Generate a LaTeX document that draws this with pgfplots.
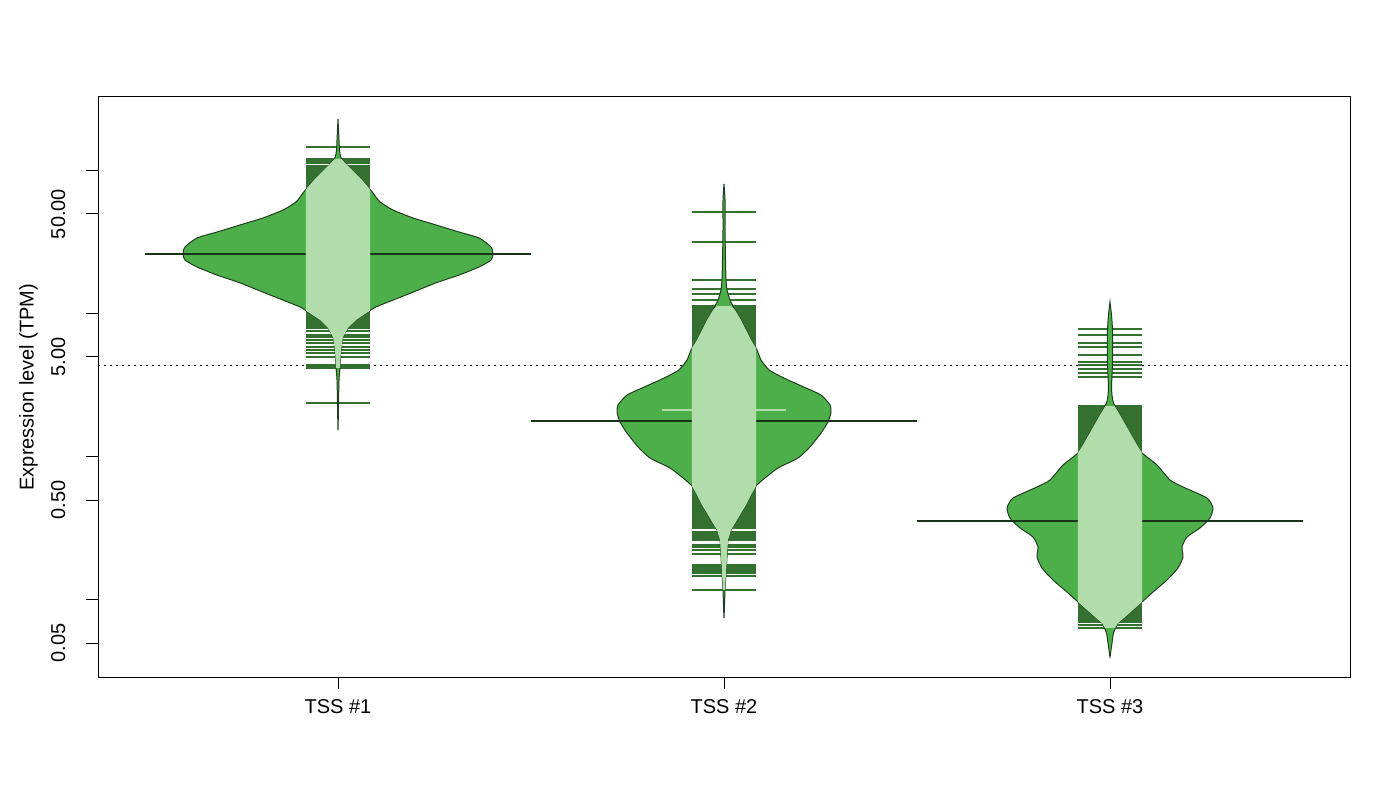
\documentclass[border=0pt]{standalone}
\usepackage{fontspec}
\setmainfont{Liberation Sans}
\usepackage{pgfplots}
\usepackage{pgfplotstable}
\pgfplotsset{compat=1.18}
\definecolor{beanfill}{RGB}{77,175,74}
\definecolor{beanlight}{RGB}{177,221,170}
\definecolor{beandark}{RGB}{52,112,48}
\definecolor{beanborder}{RGB}{30,62,30}
\definecolor{beanmean}{RGB}{25,52,25}

% individual observations (bean lines), x = bean position, y = TPM
\pgfplotstableread{
x y
1 147
1 121.2
1 117.4
1 113.6
1 108.3
1 104.9
1 101.5
1 98.3
1 95.2
1 92.2
1 89.3
1 86.5
1 83.7
1 81.1
1 78.5
1 76.0
1 73.6
1 71.3
1 60
1 48
1 38
1 30
1 24
1 19
1 15
1 12.5
1 11.2
1 10.66
1 10.32
1 9.99
1 9.68
1 9.37
1 9.07
1 8.78
1 8.51
1 8.24
1 7.98
1 7.60
1 7.13
1 6.90
1 6.58
1 6.27
1 5.87
1 5.60
1 5.33
1 5.00
1 4.40
1 4.33
1 4.26
1 4.19
1 2.38
}\beanA

\pgfplotstableread{
x y
2 51.6
2 31.85
2 17.28
2 14.94
2 13.79
2 12.52
2 11.36
2 11.00
2 10.66
2 10.32
2 9.99
2 9.68
2 9.37
2 9.07
2 8.78
2 8.51
2 8.24
2 7.98
2 7.72
2 7.48
2 7.24
2 7.01
2 6.79
2 6.58
2 6.37
2 6.17
2 5.97
2 5.78
2 5.0
2 4.0
2 3.0
2 2.5
2 2.0
2 1.8
2 1.5
2 1.2
2 1.0
2 0.8
2 0.7
2 0.626
2 0.607
2 0.587
2 0.569
2 0.551
2 0.533
2 0.516
2 0.500
2 0.484
2 0.469
2 0.454
2 0.440
2 0.426
2 0.412
2 0.399
2 0.386
2 0.374
2 0.362
2 0.351
2 0.340
2 0.329
2 0.319
2 0.299
2 0.289
2 0.280
2 0.271
2 0.263
2 0.242
2 0.235
2 0.224
2 0.210
2 0.1756
2 0.170
2 0.1646
2 0.1594
2 0.1543
2 0.1471
2 0.1174
}\beanB

\pgfplotstableread{
x y
3 7.85
3 7.13
3 6.27
3 5.87
3 5.16
3 4.61
3 4.40
3 4.12
3 3.87
3 3.62
3 2.27
3 2.20
3 2.13
3 2.06
3 2.00
3 1.934
3 1.873
3 1.813
3 1.756
3 1.700
3 1.646
3 1.594
3 1.54
3 1.494
3 1.447
3 1.401
3 1.357
3 1.314
3 1.272
3 1.232
3 1.193
3 1.155
3 1.118
3 1.0
3 0.8
3 0.6
3 0.45
3 0.36
3 0.3
3 0.25
3 0.2
3 0.16
3 0.13
3 0.11
3 0.0968
3 0.0937
3 0.0907
3 0.0878
3 0.0851
3 0.0824
3 0.0798
3 0.0772
3 0.0748
3 0.0724
3 0.0701
3 0.0668
3 0.0637
}\beanC

\begin{document}
\begin{tikzpicture}[font=\fontsize{10}{12}\selectfont]
\useasboundingbox (0,0) rectangle (700pt,400pt);
\begin{axis}[
  at={(49pt,61.5pt)}, anchor=south west,
  scale only axis, width=626pt, height=290pt,
  clip mode=individual,
  xmin=0.3782, xmax=3.6218,
  ymode=log, ymin=0.02892, ymax=328.9,
  xtick={1,2,3}, xticklabels={TSS \#1,TSS \#2,TSS \#3},
  ytick={0.05,0.1,0.5,1,5,10,50,100},
  yticklabels={0.05,,0.50,,5.00,,50.00,},
  yminorticks=false, xminorticks=false,
  tick align=outside, xtick pos=left, ytick pos=left,
  major tick length=6pt,
  tick style={black, line width=0.5pt},
  axis line style={black, line width=0.5pt},
  tick label style={font=\fontsize{10}{12}\selectfont},
  xticklabel style={anchor=north, inner sep=0pt},
  xticklabel shift=5pt,
  yticklabel style={rotate=90, anchor=south, inner sep=0pt},
  yticklabel shift=10.2pt,
  ylabel={Expression level (TPM)},
  every axis y label/.style={at={(axis description cs:-0.0515,0.5)}, rotate=90, anchor=base, inner sep=0pt, font=\fontsize{10}{12}\selectfont},
]
% overall average
\addplot[black, line width=0.5pt, dash pattern=on 1pt off 2pt] coordinates {(0.3782,4.35) (3.6218,4.35)};

% bean lines (dark, full length)
\addplot[only marks, mark=-, mark size=16pt, mark options={draw=beandark, line width=0.75pt}] table[x=x,y=y]{\beanA};
\addplot[only marks, mark=-, mark size=16pt, mark options={draw=beandark, line width=0.75pt}] table[x=x,y=y]{\beanB};
\addplot[only marks, mark=-, mark size=16pt, mark options={draw=beandark, line width=0.75pt}] table[x=x,y=y]{\beanC};

% bean 1 density
\addplot[fill=beanfill, draw=beanborder, line width=0.5pt, smooth, tension=0.35] coordinates {
(1.0000,230.8) (1.0026,164.6) (1.0039,140.1) (1.0078,123.2) (1.0233,110.1) (1.0415,98.3)
(1.0622,86.5) (1.0803,76.0) (1.0907,70.1) (1.1088,60.7) (1.1425,53.3) (1.1943,46.9)
(1.2539,41.9) (1.3135,37.4) (1.3653,34.0) (1.3964,29.4) (1.4016,26.3) (1.3964,23.8)
(1.3653,21.3) (1.3135,18.7) (1.2539,16.5) (1.1943,14.2) (1.1425,12.5) (1.0984,11.2)
(1.0777,10.32) (1.0466,9.07) (1.0259,7.98) (1.0130,6.90) (1.0078,5.60) (1.0052,4.26)
(1.0026,3.45) (1.0013,2.31) (1.0000,1.54)
(0.9987,2.31) (0.9974,3.45) (0.9948,4.26) (0.9922,5.60) (0.9870,6.90) (0.9741,7.98)
(0.9534,9.07) (0.9223,10.32) (0.9016,11.2) (0.8575,12.5) (0.8057,14.2) (0.7461,16.5)
(0.6865,18.7) (0.6347,21.3) (0.6036,23.8) (0.5984,26.3) (0.6036,29.4) (0.6347,34.0)
(0.6865,37.4) (0.7461,41.9) (0.8057,46.9) (0.8575,53.3) (0.8912,60.7) (0.9093,70.1)
(0.9197,76.0) (0.9378,86.5) (0.9585,98.3) (0.9767,110.1) (0.9922,123.2) (0.9961,140.1)
(0.9974,164.6) (1.0000,230.8)
} -- cycle;

% bean 2 density
\addplot[fill=beanfill, draw=beanborder, line width=0.5pt, smooth, tension=0.35] coordinates {
(2.0000,81.1) (2.0026,62.65) (2.0026,38.65) (2.0039,23.8) (2.0052,17.28) (2.0078,14.71)
(2.0155,12.52) (2.0285,10.66) (2.0440,9.07) (2.0570,7.72) (2.0700,6.58) (2.0829,5.78)
(2.0907,5.16) (2.0959,4.76) (2.1166,4.06) (2.1554,3.56) (2.2073,3.08) (2.2513,2.71)
(2.2746,2.31) (2.2772,2.06) (2.2694,1.756) (2.2513,1.471) (2.2228,1.174) (2.1917,0.983)
(2.1399,0.837) (2.1062,0.713) (2.0829,0.626) (2.0700,0.542) (2.0570,0.461) (2.0415,0.393)
(2.0181,0.308) (2.0104,0.263) (2.0078,0.200) (2.0052,0.1543) (2.0026,0.1174) (2.0013,0.0922)
(2.0000,0.0748)
(1.9987,0.0922) (1.9974,0.1174) (1.9948,0.1543) (1.9922,0.200) (1.9896,0.263) (1.9819,0.308)
(1.9585,0.393) (1.9430,0.461) (1.9300,0.542) (1.9171,0.626) (1.8938,0.713) (1.8601,0.837)
(1.8083,0.983) (1.7772,1.174) (1.7487,1.471) (1.7306,1.756) (1.7228,2.06) (1.7254,2.31)
(1.7487,2.71) (1.7927,3.08) (1.8446,3.56) (1.8834,4.06) (1.9041,4.76) (1.9093,5.16)
(1.9171,5.78) (1.9300,6.58) (1.9430,7.72) (1.9560,9.07) (1.9715,10.66) (1.9845,12.52)
(1.9922,14.71) (1.9948,17.28) (1.9961,23.8) (1.9974,38.65) (1.9974,62.65) (2.0000,81.1)
} -- cycle;

% bean 3 density
\addplot[fill=beanfill, draw=beanborder, line width=0.5pt, smooth, tension=0.35] coordinates {
(3.0000,12.12) (3.0039,9.83) (3.0065,7.72) (3.0065,6.07) (3.0065,4.76) (3.0052,3.74)
(3.0039,3.08) (3.0052,2.71) (3.0091,2.38) (3.0259,1.965) (3.0407,1.673) (3.0554,1.424)
(3.0702,1.212) (3.0829,1.066) (3.1218,0.878) (3.1554,0.690) (3.1891,0.617) (3.2513,0.516)
(3.2668,0.440) (3.2591,0.374) (3.2332,0.319) (3.1995,0.2755) (3.1865,0.235) (3.1891,0.200)
(3.1762,0.1673) (3.1477,0.1379) (3.1114,0.1136) (3.0829,0.0968) (3.0596,0.0851) (3.0363,0.0748)
(3.0207,0.0690) (3.0091,0.0587) (3.0052,0.0500) (3.0026,0.0447) (3.0000,0.0399)
(2.9974,0.0447) (2.9948,0.0500) (2.9909,0.0587) (2.9793,0.0690) (2.9637,0.0748) (2.9404,0.0851)
(2.9171,0.0968) (2.8886,0.1136) (2.8523,0.1379) (2.8238,0.1673) (2.8109,0.200) (2.8135,0.235)
(2.8005,0.2755) (2.7668,0.319) (2.7409,0.374) (2.7332,0.440) (2.7487,0.516) (2.8109,0.617)
(2.8446,0.690) (2.8782,0.878) (2.9171,1.066) (2.9298,1.212) (2.9446,1.424) (2.9593,1.673)
(2.9741,1.965) (2.9909,2.38) (2.9948,2.71) (2.9961,3.08) (2.9948,3.74) (2.9935,4.76)
(2.9935,6.07) (2.9935,7.72) (2.9961,9.83) (3.0000,12.12)
} -- cycle;

% bean averages
\addplot[beanmean, line width=1.3pt] coordinates {(0.5,26.3) (1.5,26.3)};
\addplot[beanmean, line width=1.3pt] coordinates {(1.5,1.784) (2.5,1.784)};
\addplot[beanmean, line width=1.3pt] coordinates {(2.5,0.3565) (3.5,0.3565)};

% bean lines inside the beans (light)
\addplot[fill=beanlight, draw=none] coordinates {
(1.009,121.2) (1.0233,110.1) (1.0415,98.3) (1.0622,86.5) (1.0803,76.0) (1.083,73.6)
(1.083,10.5) (1.0777,10.32) (1.0466,9.07) (1.0259,7.98) (1.013,6.90) (1.0078,5.60) (1.0052,4.19)
(0.9948,4.19) (0.9922,5.60) (0.987,6.90) (0.9741,7.98) (0.9534,9.07) (0.9223,10.32) (0.917,10.5)
(0.917,73.6) (0.9197,76.0) (0.9378,86.5) (0.9585,98.3) (0.9767,110.1) (0.991,121.2)
} -- cycle;
\addplot[fill=beanlight, draw=none] coordinates {
(2.0190,11.36) (2.0285,10.66) (2.044,9.07) (2.057,7.72) (2.07,6.58) (2.083,5.78)
(2.083,0.626) (2.07,0.542) (2.057,0.461) (2.0415,0.393) (2.0181,0.308) (2.0104,0.263)
(2.0078,0.200) (2.0052,0.1543) (2.0026,0.1174)
(1.9974,0.1174) (1.9948,0.1543) (1.9922,0.200) (1.9896,0.263) (1.9819,0.308) (1.9585,0.393)
(1.943,0.461) (1.93,0.542) (1.917,0.626) (1.917,5.78) (1.93,6.58) (1.943,7.72)
(1.956,9.07) (1.9715,10.66) (1.981,11.36)
} -- cycle;
\addplot[fill=beanlight, draw=none] coordinates {
(3.0120,2.27) (3.0259,1.965) (3.0407,1.673) (3.0554,1.424) (3.0702,1.212) (3.083,1.066)
(3.083,0.0968) (3.0596,0.0851) (3.0363,0.0748) (3.0207,0.0690) (3.013,0.0637)
(2.987,0.0637) (2.9793,0.0690) (2.9637,0.0748) (2.9404,0.0851) (2.917,0.0968)
(2.917,1.066) (2.9298,1.212) (2.9446,1.424) (2.9593,1.673) (2.9741,1.965) (2.988,2.27)
} -- cycle;
% tied observations in bean 2 (longer line)
\addplot[only marks, mark=-, mark size=31pt, mark options={draw=beanlight, line width=0.75pt}] coordinates {(2,2.13)};
\end{axis}
\end{tikzpicture}
\end{document}
